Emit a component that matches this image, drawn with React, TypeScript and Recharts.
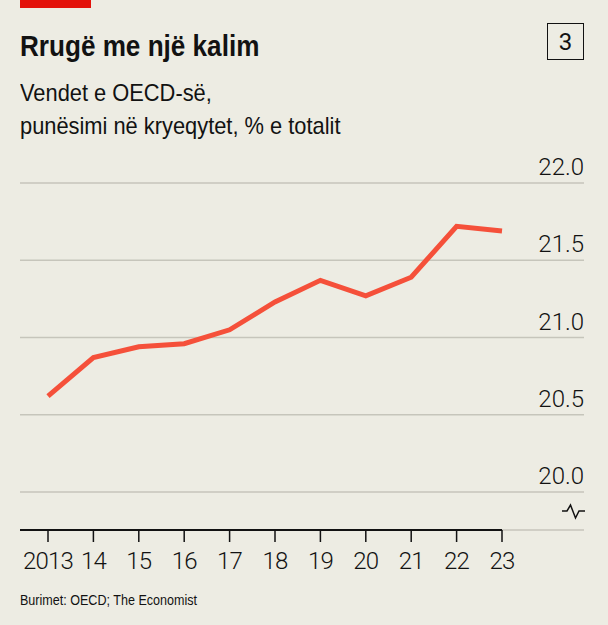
import { LineChart, Line, XAxis, YAxis, CartesianGrid } from 'recharts';

// Share of employment in capital cities, OECD countries, % of total
const years = [2013, 2014, 2015, 2016, 2017, 2018, 2019, 2020, 2021, 2022, 2023];
const capitalShare = [20.62, 20.87, 20.94, 20.96, 21.05, 21.23, 21.37, 21.27, 21.39, 21.72, 21.69];
const yTicks = [20, 20.5, 21, 21.5, 22];
const xTickLabels = ['2013', '14', '15', '16', '17', '18', '19', '20', '21', '22', '23'];

const data = years.map((year, i) => ({ year, share: capitalShare[i] }));

const BG = '#EDECE3';
const INK = '#121212';
const LINE_RED = '#F5503A';
const SANS = '"Liberation Sans", Arial, sans-serif';
const LIGHT = 'Roboto, "Liberation Sans", sans-serif';

// no condensed face installed, so squeeze the sans horizontally
const squeeze = (k: number) => ({
  display: 'inline-block',
  transform: `scaleX(${k})`,
  transformOrigin: 'left top',
});

function YTick({ y, payload }: any) {
  return (
    <text
      x={584}
      y={y - 8}
      textAnchor="end"
      fontFamily={LIGHT}
      fontWeight={300}
      fontSize={24}
      fill={INK}
    >
      {Number(payload.value).toFixed(1)}
    </text>
  );
}

function XTick({ x, y, payload }: any) {
  const i = years.indexOf(payload.value);
  return (
    <text
      x={x}
      y={y}
      dy="0.71em"
      textAnchor="middle"
      fontFamily={LIGHT}
      fontWeight={300}
      fontSize={24}
      letterSpacing={-0.8}
      fill={INK}
    >
      {xTickLabels[i]}
    </text>
  );
}

export default function App() {
  return (
    <div style={{ position: 'relative', width: 608, height: 625, background: BG, overflow: 'hidden' }}>
      <style>{'body{margin:0}'}</style>
      <div style={{ position: 'absolute', left: 20, top: 0, width: 71, height: 8, background: '#E3120B' }} />
      <div
        style={{
          position: 'absolute',
          left: 20,
          top: 32,
          fontFamily: SANS,
          fontWeight: 700,
          fontSize: 29,
          lineHeight: '29px',
          color: INK,
          whiteSpace: 'nowrap',
        }}
      >
        <span style={squeeze(0.9)}>Rrugë me një kalim</span>
      </div>
      <div
        style={{
          position: 'absolute',
          left: 547,
          top: 23,
          width: 37,
          height: 37,
          border: `1.5px solid ${INK}`,
          boxSizing: 'border-box',
          display: 'flex',
          alignItems: 'center',
          justifyContent: 'center',
          fontFamily: 'Roboto, sans-serif',
          fontSize: 24,
          color: INK,
        }}
      >
        3
      </div>
      <div
        style={{
          position: 'absolute',
          left: 20,
          top: 76,
          fontFamily: SANS,
          fontSize: 24,
          lineHeight: '33px',
          color: INK,
          whiteSpace: 'nowrap',
        }}
      >
        <span style={squeeze(0.91)}>
          Vendet e OECD-së,
          <br />
          punësimi në kryeqytet, % e totalit
        </span>
      </div>

      <div style={{ position: 'absolute', left: 0, top: 0 }}>
        <LineChart width={608} height={625} data={data} margin={{ top: 183, right: 24, bottom: 55, left: 20 }}>
          <CartesianGrid vertical={false} x={20} width={564} stroke="#C6C5BB" strokeWidth={1.5} />
          <XAxis
            dataKey="year"
            type="number"
            domain={[2013, 2023]}
            ticks={years}
            interval={0}
            padding={{ left: 28, right: 0 }}
            height={40}
            axisLine={{ stroke: INK, strokeWidth: 2 }}
            tickLine={{ stroke: INK, strokeWidth: 1.5 }}
            tickSize={12}
            tickMargin={10}
            tick={<XTick />}
          />
          <YAxis
            orientation="right"
            width={82}
            domain={[20, 22]}
            ticks={yTicks}
            padding={{ top: 0, bottom: 38 }}
            axisLine={false}
            tickLine={false}
            tick={<YTick />}
          />
          <Line
            type="linear"
            dataKey="share"
            stroke={LINE_RED}
            strokeWidth={5}
            dot={false}
            activeDot={false}
            isAnimationActive={false}
          />
        </LineChart>
      </div>

      <svg style={{ position: 'absolute', left: 0, top: 0 }} width={608} height={625} pointerEvents="none">
        <polyline
          points="562,511 567,511 570.5,505 575.5,518 579,511 585,511"
          fill="none"
          stroke={INK}
          strokeWidth={1.5}
        />
      </svg>

      <div
        style={{
          position: 'absolute',
          left: 20,
          top: 592,
          fontFamily: SANS,
          fontSize: 15.5,
          lineHeight: '16px',
          color: INK,
          whiteSpace: 'nowrap',
        }}
      >
        <span style={squeeze(0.81)}>Burimet: OECD; The Economist</span>
      </div>
    </div>
  );
}
